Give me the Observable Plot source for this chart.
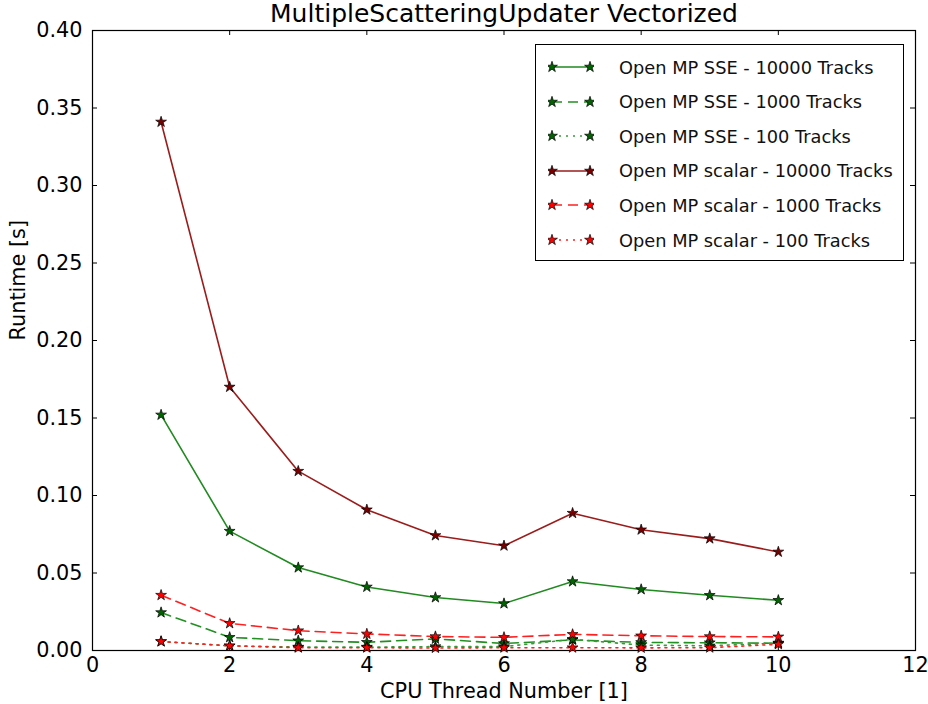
<!DOCTYPE html>
<html><head><meta charset="utf-8">
<script src="https://cdn.jsdelivr.net/npm/d3@7"></script>
<script src="https://cdn.jsdelivr.net/npm/@observablehq/plot@0.6"></script>
<style>
body{margin:0;background:#fff;font-family:"DejaVu Sans",sans-serif;}
#wrap{position:relative;width:928px;height:704px;}
#legend{position:absolute;left:535px;top:44px;width:369px;height:217px;border:1px solid #000;background:#fff;box-sizing:border-box;}
#legend .row{position:absolute;left:0;height:20px;display:flex;align-items:center;}
#legend .row span{font-size:17.8px;color:#111;margin-left:25px;white-space:nowrap;}
</style></head>
<body><div id="wrap"><div id="legend"></div></div>
<script>
const titleText = "MultipleScatteringUpdater Vectorized";
const xLabel = "CPU Thread Number [1]";
const yLabel = "Runtime [s]";
const threads = [1, 2, 3, 4, 5, 6, 7, 8, 9, 10];
const sse10000 = [0.152, 0.077, 0.0535, 0.041, 0.0342, 0.0303, 0.0445, 0.0394, 0.0356, 0.0324];
const sse1000 = [0.0245, 0.0085, 0.0063, 0.0053, 0.0075, 0.0045, 0.0068, 0.0052, 0.0050, 0.0047];
const sse100 = [0.0058, 0.0030, 0.0022, 0.0022, 0.0025, 0.0025, 0.0072, 0.0035, 0.0030, 0.0048];
const scalar10000 = [0.341, 0.170, 0.1157, 0.0908, 0.0742, 0.0676, 0.0886, 0.0779, 0.0722, 0.0636];
const scalar1000 = [0.0357, 0.0175, 0.0128, 0.0107, 0.0090, 0.0085, 0.0104, 0.0095, 0.0090, 0.0088];
const scalar100 = [0.0058, 0.0030, 0.0018, 0.0018, 0.0016, 0.0018, 0.0018, 0.0017, 0.0018, 0.0040];
const seriesNames = ["Open MP SSE - 10000 Tracks", "Open MP SSE - 1000 Tracks", "Open MP SSE - 100 Tracks",
  "Open MP scalar - 10000 Tracks", "Open MP scalar - 1000 Tracks", "Open MP scalar - 100 Tracks"];
const xTicks = [0, 2, 4, 6, 8, 10, 12];
const yTicks = [0, 0.05, 0.10, 0.15, 0.20, 0.25, 0.30, 0.35, 0.40];

const seriesValues = [sse10000, sse1000, sse100, scalar10000, scalar1000, scalar100];
const styles = [
  {stroke: "#218a21", fill: "#006400", dash: null},
  {stroke: "#239023", fill: "#006400", dash: "10,6"},
  {stroke: "#3a9a3a", fill: "#006400", dash: "2,5"},
  {stroke: "#9b1c1c", fill: "#7a0000", dash: null},
  {stroke: "#ff2020", fill: "#ff0000", dash: "10,6"},
  {stroke: "#ff2020", fill: "#ff0000", dash: "2,5"}
];

const W = 928, H = 704, mL = 92, mR = 13, mT = 30, mB = 54;
const pw = W - mL - mR, ph = H - mT - mB, tl = 5;
const starR = 3.4;

const marks = [];
seriesValues.forEach((vals, i) => {
  const data = threads.map((t, j) => ({x: t, y: vals[j]}));
  const s = styles[i];
  marks.push(Plot.line(data, {x: "x", y: "y", stroke: s.stroke, strokeWidth: 1.6, strokeDasharray: s.dash}));
  marks.push(Plot.dot(data, {x: "x", y: "y", symbol: "star", r: starR, fill: s.fill, stroke: "#000", strokeWidth: 0.7}));
});

const chart = Plot.plot({
  width: W, height: H, marginLeft: mL, marginRight: mR, marginTop: mT, marginBottom: mB,
  style: {fontFamily: "DejaVu Sans", fontSize: "20.8px", color: "#000", background: "#fff", overflow: "visible"},
  x: {domain: [0, 12]},
  y: {domain: [0, 0.4]},
  marks: [
    Plot.frame({stroke: "#000", strokeWidth: 1.2}),
    Plot.tickX(xTicks, {x: d => d, stroke: "#000", insetTop: ph - tl}),
    Plot.tickX(xTicks, {x: d => d, stroke: "#000", insetBottom: ph - tl}),
    Plot.tickY(yTicks, {y: d => d, stroke: "#000", insetRight: pw - tl}),
    Plot.tickY(yTicks, {y: d => d, stroke: "#000", insetLeft: pw - tl}),
    Plot.axisX(xTicks, {anchor: "bottom", tickSize: 0, tickPadding: 7, tickFormat: d => String(d), fontSize: 20.8, label: null}),
    Plot.axisY(yTicks, {anchor: "left", tickSize: 0, tickPadding: 10, tickFormat: d3.format(".2f"), fontSize: 20.8, label: null}),
    ...marks,
    Plot.text([titleText], {text: d => d, frameAnchor: "top", lineAnchor: "middle", dy: -17, fontSize: 25}),
    Plot.text([xLabel], {text: d => d, frameAnchor: "bottom", lineAnchor: "middle", dy: 41, fontSize: 20.8}),
    Plot.text([yLabel], {text: d => d, frameAnchor: "left", dx: -74, rotate: -90, fontSize: 20.8})
  ]
});
document.getElementById("wrap").prepend(chart);

// Legend overlay
const legend = d3.select("#legend");
const starPath = d3.symbol(d3.symbolStar, Math.PI * starR * starR)();
seriesNames.forEach((name, i) => {
  const s = styles[i];
  const row = legend.append("div").attr("class", "row").style("top", (12 + i * 34.6) + "px").style("left", "12px");
  const svg = row.append("svg").attr("width", 46).attr("height", 20);
  svg.append("line").attr("x1", 4).attr("x2", 42).attr("y1", 10).attr("y2", 10)
    .attr("stroke", s.stroke).attr("stroke-width", 1.6).attr("stroke-dasharray", s.dash);
  [4, 42].forEach(cx => svg.append("path").attr("d", starPath).attr("transform", `translate(${cx},10)`)
    .attr("fill", s.fill).attr("stroke", "#000").attr("stroke-width", 0.7));
  row.append("span").text(name);
});
</script>
</body></html>
